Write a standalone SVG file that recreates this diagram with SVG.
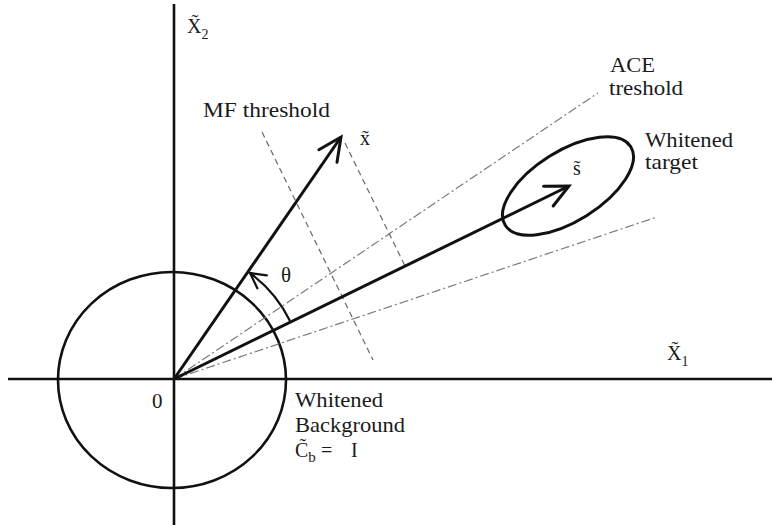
<svg xmlns="http://www.w3.org/2000/svg" width="772" height="525" viewBox="0 0 772 525">
<style>
.t{font-family:"Liberation Serif","Times New Roman",serif;font-size:21px;fill:#1a1a1a}
.m{font-family:"Liberation Serif","Times New Roman",serif;fill:#1a1a1a}
.ax{stroke:#111;stroke-width:2.6;fill:none}
.vec{stroke:#111;stroke-width:3;fill:none}
.mf{stroke:#6a6a6a;stroke-width:1.2;stroke-dasharray:6 4;fill:none}
.ace{stroke:#7a7a7a;stroke-width:1.2;stroke-dasharray:9 3 2 3;fill:none}
</style>
<defs>
<marker id="head" markerUnits="userSpaceOnUse" markerWidth="30" markerHeight="30" refX="0" refY="0" viewBox="-26 -13 30 26" orient="auto">
<path d="M-23,-11 L0,0 L-23,11" fill="none" stroke="#111" stroke-width="3" stroke-linecap="round" stroke-linejoin="miter"/>
</marker>
<marker id="headsm" markerUnits="userSpaceOnUse" markerWidth="22" markerHeight="22" refX="0" refY="0" viewBox="-18 -10 22 20" orient="auto">
<path d="M-15,-8 L0,0 L-15,8" fill="none" stroke="#111" stroke-width="2.2" stroke-linecap="round"/>
</marker>
</defs>
<rect width="772" height="525" fill="#fff"/>

<g id="axes">
<line class="ax" x1="8" y1="379" x2="772" y2="379"/>
<line class="ax" x1="174" y1="4" x2="174" y2="525"/>
</g>

<g id="background-circle">
<ellipse class="ax" cx="172" cy="380" rx="114" ry="108"/>
</g>

<g id="target-ellipse">
<ellipse cx="568" cy="186" rx="74" ry="35" transform="rotate(-32 568 186)" fill="none" stroke="#111" stroke-width="3"/>
</g>

<g id="connectors">
<line class="mf" x1="262" y1="132" x2="373" y2="360"/>
<line class="mf" x1="345" y1="143" x2="405" y2="266"/>
<line class="ace" x1="174" y1="379" x2="598" y2="93"/>
<line class="ace" x1="174" y1="379" x2="657" y2="217"/>
<line class="vec" x1="174" y1="379" x2="341" y2="137" marker-end="url(#head)"/>
<line class="vec" x1="174" y1="379" x2="569" y2="186" marker-end="url(#head)"/>
<path d="M290,321 A130,130 0 0 0 250,273" fill="none" stroke="#111" stroke-width="2.2" marker-end="url(#headsm)"/>
</g>

<g id="labels">
<text class="m" x="187" y="33" font-size="20">X̃<tspan font-size="14" dy="6">2</tspan></text>

<text class="m" x="667" y="360" font-size="20">X̃<tspan font-size="14" dy="6">1</tspan></text>

<text class="t" x="203" y="117" textLength="127" lengthAdjust="spacingAndGlyphs">MF threshold</text>

<text class="m" x="360" y="145" font-size="20">x̃</text>

<text class="m" x="573" y="175" font-size="20">s̃</text>

<text class="t" x="610" y="72" textLength="45" lengthAdjust="spacingAndGlyphs">ACE</text>
<text class="t" x="609" y="95" textLength="74" lengthAdjust="spacingAndGlyphs">treshold</text>

<text class="t" x="645" y="147" textLength="88" lengthAdjust="spacingAndGlyphs">Whitened</text>
<text class="t" x="645" y="169" textLength="53" lengthAdjust="spacingAndGlyphs">target</text>

<text class="m" x="281" y="282" font-size="21">θ</text>

<text class="t" x="152" y="408">0</text>

<text class="t" x="295" y="407" textLength="88" lengthAdjust="spacingAndGlyphs">Whitened</text>
<text class="t" x="295" y="432" textLength="110" lengthAdjust="spacingAndGlyphs">Background</text>
<text class="m" x="295" y="457" font-size="20">C̃<tspan font-size="15" dy="5">b</tspan><tspan x="321" y="457">=</tspan><tspan x="351" y="457">I</tspan></text>
</g>
</svg>
